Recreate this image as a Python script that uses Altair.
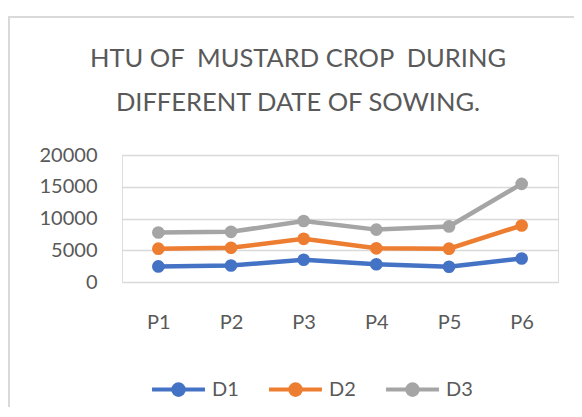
import altair as alt
import pandas as pd

periods = ["P1", "P2", "P3", "P4", "P5", "P6"]
series_names = ["D1", "D2", "D3"]
d1 = [2450, 2600, 3500, 2800, 2400, 3700]
d2 = [5250, 5400, 6800, 5300, 5250, 8900]
d3 = [7800, 7900, 9600, 8250, 8750, 15450]
colors = ["#4472C4", "#ED7D31", "#A5A5A5"]
title_lines = ["HTU OF \u00a0MUSTARD CROP \u00a0DURING", "DIFFERENT DATE OF SOWING."]
y_ticks = [0, 5000, 10000, 15000, 20000]

rows = []
for name, vals in zip(series_names, [d1, d2, d3]):
    for p, v in zip(periods, vals):
        rows.append({"period": p, "series": name, "value": v})
df = pd.DataFrame(rows)

FONT = "Lato"
TXT = "#595959"

legend_path = "M-1,0L1,0M0.2,0A0.2,0.2,0,1,1,-0.2,0A0.2,0.2,0,1,1,0.2,0Z"

color = alt.Color(
    "series:N",
    scale=alt.Scale(domain=series_names, range=colors),
    legend=alt.Legend(
        title=None,
        orient="none",
        direction="horizontal",
        legendX=28,
        legendY=206,
        symbolType=legend_path,
        symbolSize=2800,
        symbolStrokeWidth=4,
        labelFont=FONT,
        labelFontSize=20,
        labelColor=TXT,
        labelOffset=5,
        columnPadding=22,
    ),
)

x = alt.X(
    "period:N",
    sort=periods,
    scale=alt.Scale(paddingInner=0, paddingOuter=0),
    axis=alt.Axis(
        title=None, labelAngle=0, domain=False, ticks=False, tickSize=0,
        labelPadding=30, labelFont=FONT, labelFontSize=20, labelColor=TXT,
        grid=False,
    ),
)
y = alt.Y(
    "value:Q",
    scale=alt.Scale(domain=[0, 20000], nice=False),
    axis=alt.Axis(
        title=None, values=y_ticks, format="d", domain=False, ticks=False,
        tickSize=0, labelPadding=25, labelFont=FONT, labelFontSize=20,
        labelColor=TXT, grid=True, gridColor="#D9D9D9", gridWidth=1.3,
    ),
)

frame = alt.Chart(pd.DataFrame({"a": [0]})).mark_rect(
    fill="transparent", stroke="#D9D9D9", strokeWidth=2
).encode(
    x=alt.value(-113), x2=alt.value(600), y=alt.value(-138), y2=alt.value(400)
)

lines = alt.Chart(df).mark_line(strokeWidth=4.5).encode(
    x=x, y=y, color=color, detail="series:N"
)
points = alt.Chart(df).mark_point(filled=True, size=160, opacity=1).encode(
    x=x, y=y, color=color
)

chart = alt.layer(frame, lines, points).properties(
    width=436,
    height=127,
    autosize=alt.AutoSizeParams(type="none"),
    padding={"left": 114, "top": 147, "right": 16, "bottom": 125},
    title=alt.TitleParams(
        text=title_lines,
        font=FONT,
        fontSize=25.5,
        fontWeight="normal",
        color=TXT,
        lineHeight=44,
        anchor="middle",
        frame="group",
        dx=-42,
        offset=-100,
    ),
).configure_view(stroke=None).configure(background="white")

chart.save("out.html", embed_options={"renderer": "svg", "actions": False})
